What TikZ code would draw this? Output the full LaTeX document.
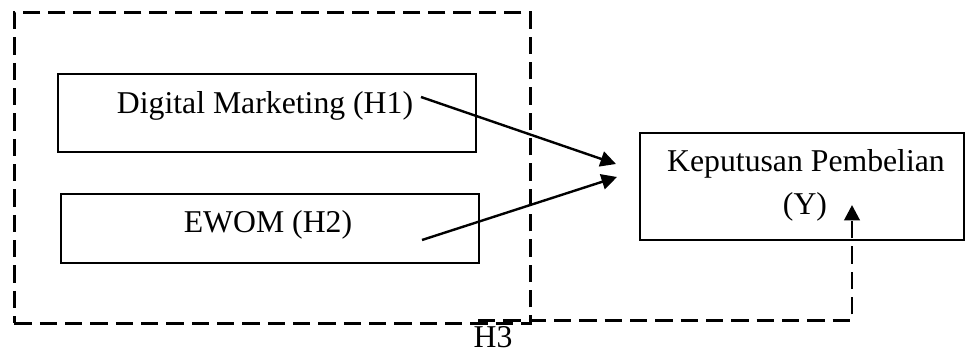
\documentclass[tikz,border=0pt]{standalone}
\usepackage{fontspec}
\setmainfont{Liberation Serif}
\usetikzlibrary{arrows.meta}
\begin{document}
\begin{tikzpicture}[x=0.375pt,y=-0.375pt,
  box/.style={draw, line width=0.9pt, inner sep=0pt, anchor=north west},
  lbl/.style={font=\fontsize{11.9pt}{16.1pt}\selectfont, inner sep=0pt, anchor=base},
  groupline/.style={line width=1.1pt, dash pattern=on 6.5pt off 3pt},
  link/.style={line width=0.9pt, -{Triangle[length=5.8pt,width=5.8pt]}},
]
\useasboundingbox (0,0) rectangle (965,354);

% dashed frame around the two independent variables
\node[box, groupline, minimum width=516*0.375pt, minimum height=311*0.375pt] (grp) at (13,11) {};

% independent variables
\node[box, minimum width=418*0.375pt, minimum height=78*0.375pt] (dm) at (57,73) {};
\node[lbl] (dmtext) at (265,114) {Digital Marketing (H1)};
\node[box, minimum width=418*0.375pt, minimum height=69*0.375pt] (ew) at (60,193) {};
\node[lbl] (ewtext) at (268,233) {EWOM (H2)};

% dependent variable
\node[box, minimum width=324*0.375pt, minimum height=107*0.375pt] (kp) at (639,132) {};
\node[lbl] (kptext) at (806,172) {Keputusan Pembelian};
\node[lbl] (kpy) at (805,215) {(Y)};

% partial effects
\coordinate (a1s) at (421,97);
\coordinate (a1e) at (616,164);
\coordinate (a2s) at (422,240);
\coordinate (a2e) at (617,177);
\draw[link] (a1s) -- (a1e);
\draw[link] (a2s) -- (a2e);

% simultaneous effect
\coordinate (h3s) at (478,320.5);
\coordinate (h3c) at (852,320.5);
\coordinate (h3e) at (852,205);
\draw[link, groupline] (h3s) -- (h3c) -- (h3e);
\node[lbl] (h3) at (493,348) {H3};
\end{tikzpicture}
\end{document}
